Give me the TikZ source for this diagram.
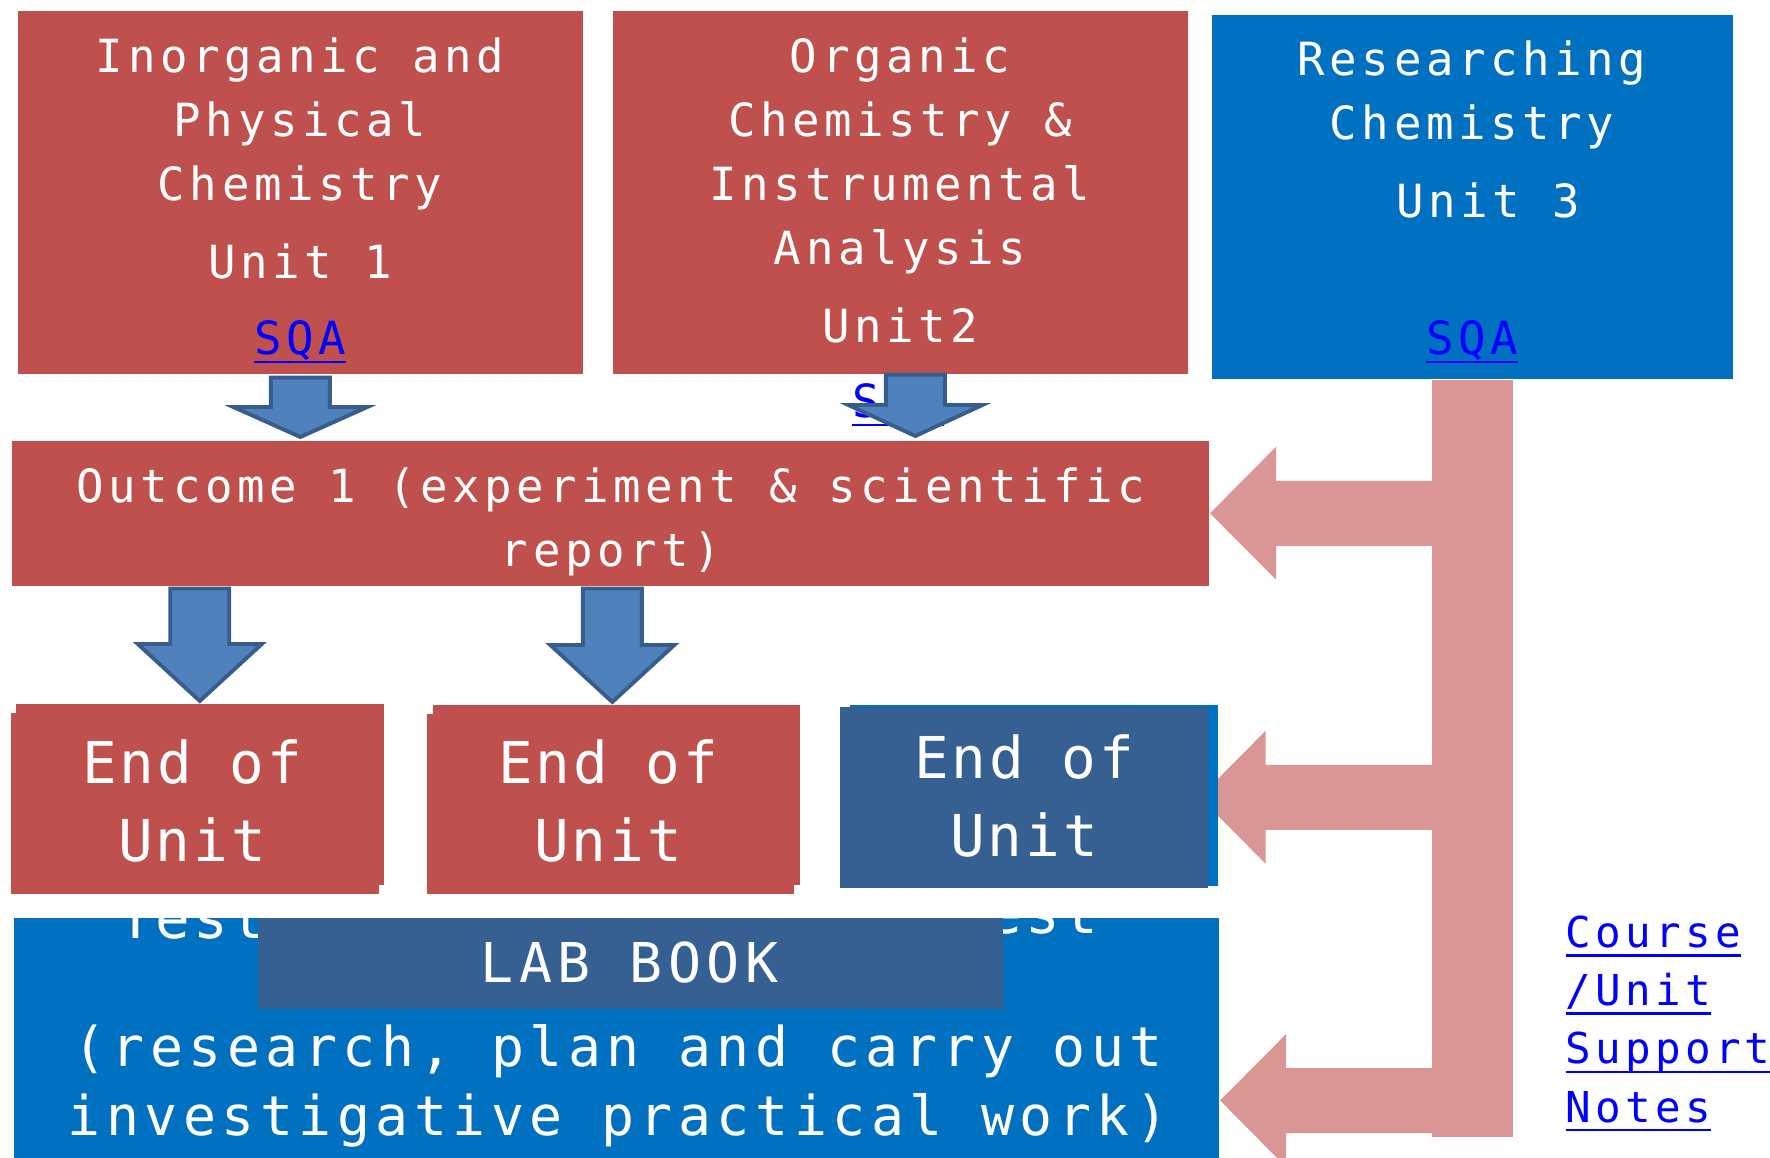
\documentclass[tikz,border=0pt]{standalone}
\usepackage{fontspec}
\usetikzlibrary{calc}
\usetikzlibrary{shadows}
\newfontfamily\monotext[LetterSpace=10]{DejaVu Sans Mono}
\newfontfamily\monobig[LetterSpace=5]{DejaVu Sans Mono}
\definecolor{cred}{HTML}{C0504D}
\definecolor{cblue}{HTML}{0070C0}
\definecolor{cnavy}{HTML}{376092}
\definecolor{carrow}{HTML}{4F81BD}
\definecolor{carrowline}{HTML}{385D8A}
\definecolor{cpink}{HTML}{D99694}
\definecolor{clink}{HTML}{0000FF}
\pgfdeclarelayer{back}
\pgfsetlayers{back,main}
% underlined hyperlink look
\newcommand{\lnk}[1]{\setbox0\hbox{#1}\rlap{\rule[-2.6pt]{\wd0}{0.75pt}}\box0}
% block arrow pointing down: start, tip, shaft half width, head half width, head length
\newcommand{\downblock}[5]{%
  \filldraw[bluearrow] ($#1+(-#3,0)$) -- ($#1+(#3,0)$) -- ($#2+(#3,-#5)$) -- ($#2+(#4,-#5)$)
    -- #2 -- ($#2+(-#4,-#5)$) -- ($#2+(-#3,-#5)$) -- cycle;}
% block arrow pointing left, from the trunk: root, tip
\newcommand{\leftblock}[2]{%
  \fill[pinkarm] #2 -- ($#2+(66,-66.5)$) -- ($#2+(66,-32.5)$) -- ($#1+(0,-32.5)$)
    -- ($#1+(0,32.5)$) -- ($#2+(66,32.5)$) -- ($#2+(66,66.5)$) -- cycle;}

\begin{document}
\begin{tikzpicture}[x=0.01cm, y=-0.01cm,
  box/.style={rectangle, inner sep=0pt, anchor=north west},
  redbox/.style={box, fill=cred},
  bluebox/.style={box, fill=cblue},
  navybox/.style={box, fill=cnavy},
  txt/.style={text=white, inner sep=0pt, anchor=base, align=center},
  link/.style={text=clink, inner sep=0pt, anchor=base, align=center},
  unitfont/.style={font=\monotext\fontsize{13}{18.2}\selectfont},
  endfont/.style={font=\monobig\fontsize{16.4}{21.9}\selectfont},
  labfont/.style={font=\monotext\fontsize{15.6}{19.35}\selectfont},
  notefont/.style={font=\monotext\fontsize{12.1}{16.5}\selectfont},
  bluearrow/.style={fill=carrow, draw=carrowline, line width=1.1pt},
  pinkarm/.style={fill=cpink}]
  \useasboundingbox (0,0) rectangle (1770,1157);

  % units
  \node[redbox, minimum width=5.65cm, minimum height=3.63cm] (u1) at (17,10) {};
  \node[redbox, minimum width=5.75cm, minimum height=3.63cm] (u2) at (612,10) {};
  \node[bluebox, minimum width=5.21cm, minimum height=3.64cm] (u3) at (1211,14) {};
  % outcome and end of unit tests
  \node[redbox, minimum width=11.97cm, minimum height=1.45cm] (outc) at (11,440) {};
  \node[redbox, minimum width=3.68cm, minimum height=1.81cm,
    general shadow={fill=cred, shadow xshift=-0.05cm, shadow yshift=-0.09cm}] (e1) at (15,703) {};
  \node[redbox, minimum width=3.67cm, minimum height=1.80cm,
    general shadow={fill=cred, shadow xshift=-0.06cm, shadow yshift=-0.09cm}] (e2) at (432,704) {};
  \node[navybox, minimum width=3.68cm, minimum height=1.81cm,
    general shadow={fill=cblue, shadow xshift=0.10cm, shadow yshift=0.02cm}] (e3) at (839,706) {};
  \node[bluebox, minimum width=12.05cm, minimum height=2.40cm] (lab) at (13,917) {};

  % texts (base = last line)
  \node[txt, unitfont] (u1t) at (300,278) {Inorganic and\\Physical\\Chemistry\\[3.7pt]Unit 1};
  \node[txt, unitfont] (u2t) at (900,342) {Organic\\Chemistry \&\\Instrumental\\Analysis\\[3.7pt]Unit2};
  \node[txt, unitfont] (u3t) at (1472,217) {Researching\\Chemistry\\[3.7pt]\hspace*{9pt}Unit 3};
  \node[link, unitfont] (s1) at (300,354) {\lnk{SQA}};
  \node[link, unitfont] (s2) at (898,417) {\lnk{SQA}};
  \node[link, unitfont] (s3) at (1472,354) {\lnk{SQA}};
  \node[txt, unitfont] (outt) at (611,566) {Outcome 1 (experiment \& scientific\\report)};
  \node[txt, endfont] (e1t) at (192,938) {End of\\Unit\\Test};
  \node[txt, endfont] (e2t) at (608,938) {End of\\Unit\\Test};
  \node[txt, endfont] (e3t) at (1024,933) {End of\\Unit\\Test};
  \node[txt, labfont] (labt) at (618,1135) {(research, plan and carry out\\investigative practical work)};
  \node[link, notefont, anchor=base west, align=left] (notes) at (1565,1122)
    {\lnk{Course}\\\lnk{/Unit}\\\lnk{Support}\\\lnk{Notes}};

  % lab book
  \node[navybox, minimum width=7.45cm, minimum height=0.91cm] (lb) at (257,917) {};
  \node[txt, labfont] (lbt) at (629.5,982) {LAB BOOK};

  % arrows down
  \coordinate (a1s) at ($(u1.south)+(0,3)$);
  \coordinate (a1e) at ($(u1.south |- outc.north)+(0,-3)$);
  \coordinate (a2s) at ($(u2.south)+(15,0)$);
  \coordinate (a2e) at ($(a2s |- outc.north)+(0,-4)$);
  \coordinate (a3s) at ($(outc.south -| e1.north)+(0,2)$);
  \coordinate (a3e) at ($(e1.north)+(0,-2)$);
  \coordinate (a4s) at ($(outc.south -| e2.north)+(-4,2)$);
  \coordinate (a4e) at ($(e2.north)+(-4,-2)$);
  \downblock{(a1s)}{(a1e)}{29.5}{67}{30}
  \downblock{(a2s)}{(a2e)}{29.5}{67}{31}
  \downblock{(a3s)}{(a3e)}{29.5}{62}{57}
  \downblock{(a4s)}{(a4e)}{29.5}{62}{57}

  % unit 3 feeds everything
  \begin{pgfonlayer}{back}
    \node[rectangle, inner sep=0pt, fill=cpink, anchor=north, minimum width=0.81cm,
      minimum height=7.56cm] (trunk) at (u3.south) {};
    \coordinate (pA) at (outc.east);
    \coordinate (pB) at ($(e3.east)+(-9,0)$);
    \coordinate (pC) at ($(lab.south east)+(0,-58)$);
    \coordinate (rA) at (trunk.center |- pA);
    \coordinate (rB) at (trunk.center |- pB);
    \coordinate (rC) at (trunk.center |- pC);
    \leftblock{(rA)}{(pA)}
    \leftblock{(rB)}{(pB)}
    \leftblock{(rC)}{(pC)}
  \end{pgfonlayer}
\end{tikzpicture}
\end{document}
